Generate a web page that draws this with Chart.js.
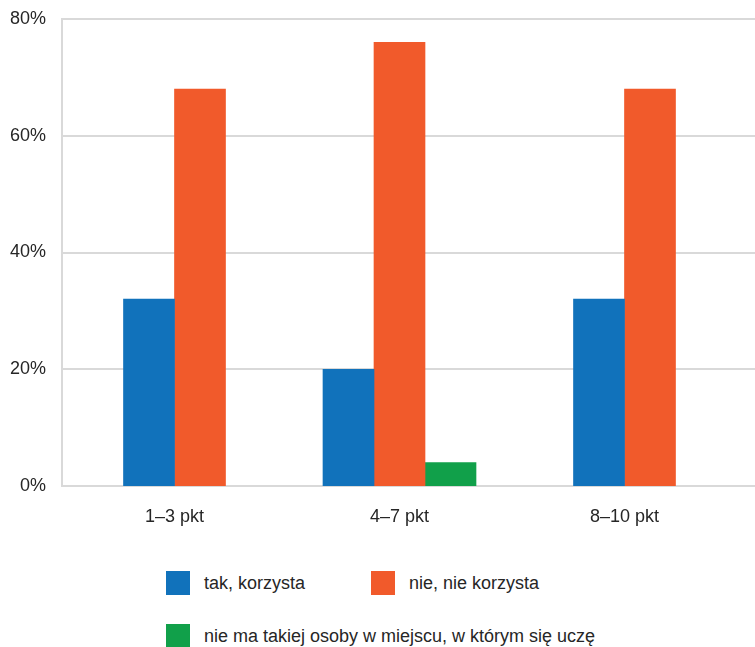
<!DOCTYPE html>
<html>
<head>
<meta charset="utf-8">
<script src="https://cdn.jsdelivr.net/npm/chart.js@4"></script>
<style>
  body { margin: 0; background: #fff; font-family: "Liberation Sans", Arial, sans-serif; }
  #wrap { position: relative; width: 755px; height: 647px; }
  #wrap canvas { position: absolute; left: 0; top: 0; }
  .leg { position: absolute; font-size: 18px; color: #262626; line-height: 24px; white-space: nowrap; }
  .leg span { position: absolute; left: 0; top: 0; width: 24px; height: 24px; }
  .leg b { font-weight: normal; position: absolute; left: 38px; top: 0; }
</style>
</head>
<body>
<div id="wrap">
  <canvas id="wykres" width="755" height="545"></canvas>
  <div id="legenda"></div>
</div>
<script>
// dane
const kategorie = ["1–3 pkt", "4–7 pkt", "8–10 pkt"];
const takKorzysta = [32, 20, 32];
const nieKorzysta = [68, 76, 68];
const brakOsoby = [null, 4, null];
const etykiety = ["tak, korzysta", "nie, nie korzysta", "nie ma takiej osoby w miejscu, w którym się uczę"];
const kolory = ["#1172bb", "#f15a2b", "#11a04a"];

// siatka pozioma az do prawej krawedzi
const siatka = {
    id: "siatka",
    beforeDatasetsDraw(chart) {
        const ctx = chart.ctx;
        const y = chart.scales.y;
        ctx.save();
        ctx.strokeStyle = "#d9d9d9";
        ctx.lineWidth = 2;
        y.ticks.forEach(t => {
            const py = Math.round(y.getPixelForValue(t.value));
            ctx.beginPath();
            ctx.moveTo(chart.chartArea.left, py);
            ctx.lineTo(chart.width, py);
            ctx.stroke();
        });
        ctx.restore();
    }
};

new Chart(document.getElementById("wykres"), {
    type: "bar",
    data: {
        labels: kategorie,
        datasets: [
            { label: etykiety[0], data: takKorzysta, backgroundColor: kolory[0] },
            { label: etykiety[1], data: nieKorzysta, backgroundColor: kolory[1] },
            { label: etykiety[2], data: brakOsoby, backgroundColor: kolory[2] }
        ]
    },
    options: {
        responsive: false,
        animation: false,
        skipNull: true,
        barThickness: 51,
        layout: { padding: { top: 19, left: 8, right: 18, bottom: 17 } },
        plugins: {
            legend: { display: false },
            tooltip: { enabled: false }
        },
        scales: {
            x: {
                grid: { display: false, drawTicks: false },
                border: { display: false },
                afterFit: s => { s.height = 42; },
                ticks: {
                    padding: 20,
                    color: "#262626",
                    font: { family: "'Liberation Sans', Arial", size: 18 }
                }
            },
            y: {
                min: 0,
                max: 80,
                grid: { display: false, drawTicks: true, tickLength: 13 },
                border: { display: true, color: "#d9d9d9", width: 2 },
                afterFit: s => { s.width = 54; },
                ticks: {
                    stepSize: 20,
                    padding: 3,
                    color: "#262626",
                    font: { family: "'Liberation Sans', Arial", size: 18 },
                    callback: v => v + "%"
                }
            }
        }
    },
    plugins: [siatka]
});

// legenda
const pozycje = [[166, 571], [371, 571], [166, 624]];
const leg = document.getElementById("legenda");
etykiety.forEach((e, i) => {
    const d = document.createElement("div");
    d.className = "leg";
    d.style.left = pozycje[i][0] + "px";
    d.style.top = pozycje[i][1] + "px";
    d.innerHTML = '<span style="background:' + kolory[i] + '"></span><b>' + e + '</b>';
    leg.appendChild(d);
});
</script>
</body>
</html>
